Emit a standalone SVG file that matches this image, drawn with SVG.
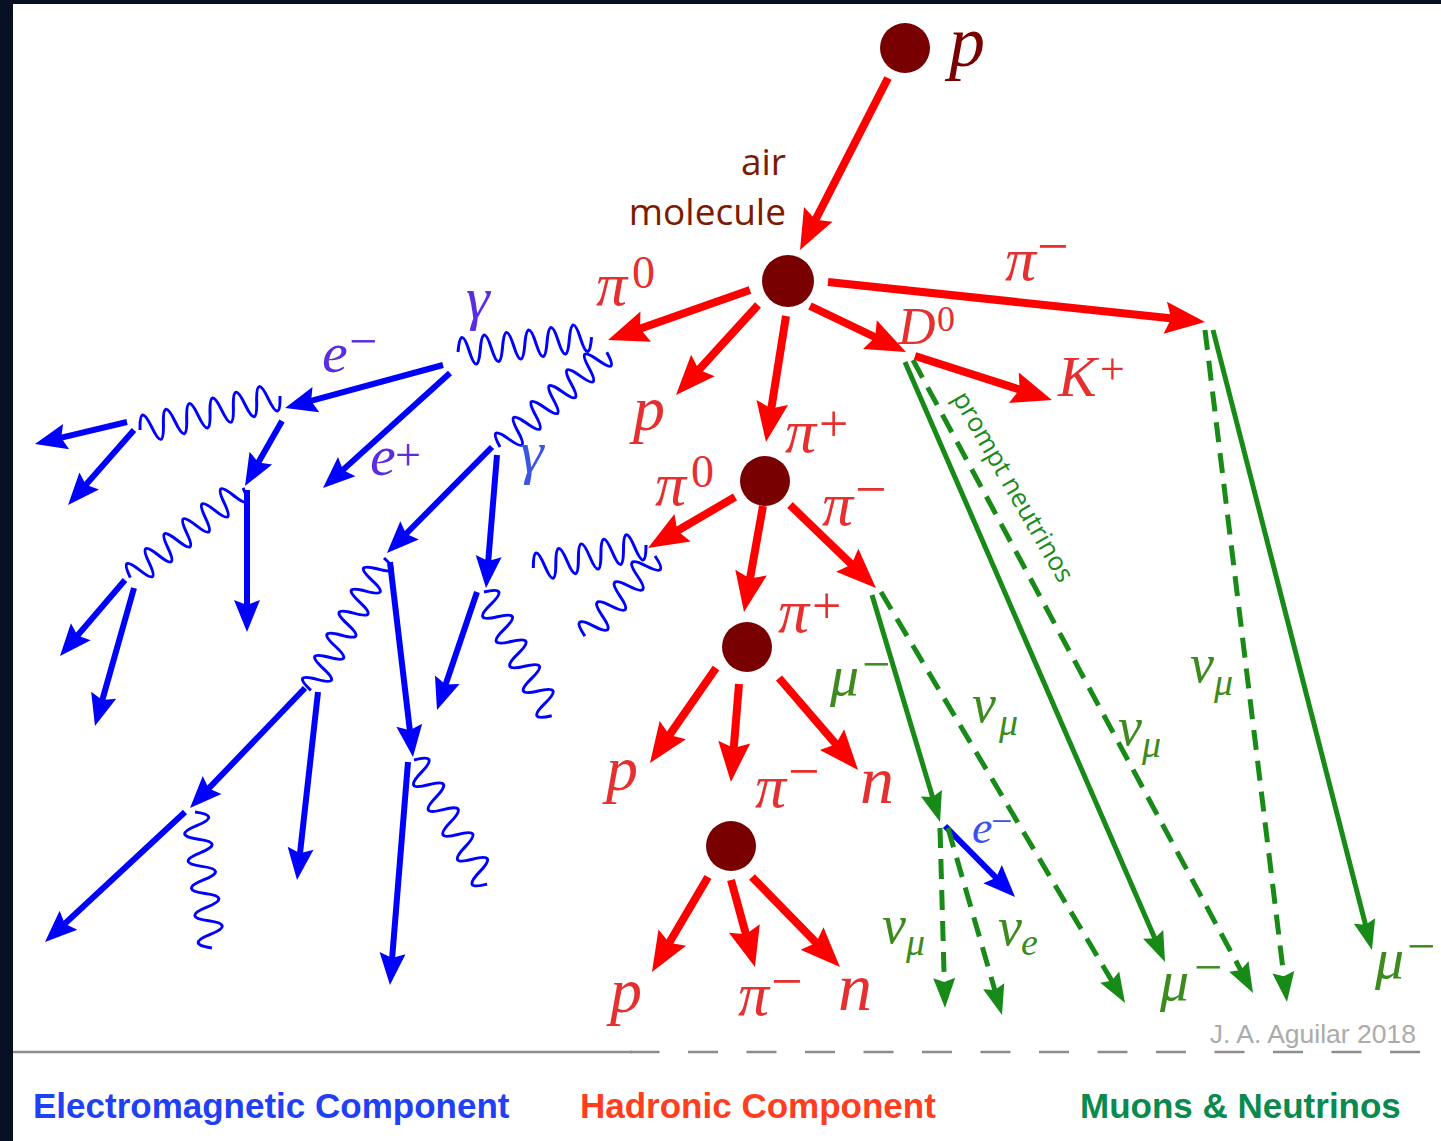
<svg xmlns="http://www.w3.org/2000/svg" width="1441" height="1141" viewBox="0 0 1441 1141">
  <style>
    .had { stroke: #ff0000; stroke-width: 8; fill: none; }
    .em { stroke: #0000ff; stroke-width: 6; fill: none; }
    .wave { stroke: #0000ff; stroke-width: 3; fill: none; stroke-linejoin: round; }
    .mu { stroke: #178a17; stroke-width: 5; fill: none; }
    .nu { stroke: #178a17; stroke-width: 5; fill: none; stroke-dasharray: 20 11; }
    .vtx { fill: #780000; }
    .m { font-family: "Liberation Serif", "DejaVu Serif", serif; font-style: italic; }
    .up { font-family: "Liberation Serif", "DejaVu Serif", serif; font-style: normal; }
    .hl { fill: #e63030; }
    .gl { fill: #3d8b1f; }
    .legend { font-family: "Liberation Sans", Arial, sans-serif; font-weight: bold; font-size: 35px; }
  </style>
  <defs>
    <marker id="hr" markerUnits="userSpaceOnUse" markerWidth="44" markerHeight="36" viewBox="0 -18 44 36" refX="10" refY="0" orient="auto" overflow="visible">
      <path d="M0,-16 L40,0 L0,16 L6,0 Z" fill="#ff0000"/>
    </marker>
    <marker id="hb" markerUnits="userSpaceOnUse" markerWidth="36" markerHeight="30" viewBox="0 -15 36 30" refX="8" refY="0" orient="auto" overflow="visible">
      <path d="M0,-13 L32,0 L0,13 L5,0 Z" fill="#0000ff"/>
    </marker>
    <marker id="hg" markerUnits="userSpaceOnUse" markerWidth="34" markerHeight="26" viewBox="0 -13 34 26" refX="8" refY="0" orient="auto" overflow="visible">
      <path d="M0,-11 L30,0 L0,11 L4,0 Z" fill="#178a17"/>
    </marker>
  </defs>

  <!-- frame -->
  <rect x="0" y="0" width="1441" height="1141" fill="#061022"/>
  <rect x="13" y="4" width="1428" height="1137" fill="#ffffff"/>

  <!-- connectors -->
  <g id="connectors">
    <!-- hadronic cascade -->
    <g id="hadronic-tracks">
      <path class="had" d="M888,78 L813.7,223.3" marker-end="url(#hr)"/>
      <path class="had" d="M750,290 L636.3,330" marker-end="url(#hr)"/>
      <path class="had" d="M758,305 L696.2,372.8" marker-end="url(#hr)"/>
      <path class="had" d="M786,316 L770.7,412.4" marker-end="url(#hr)"/>
      <path class="had" d="M810,306 L878.9,339" marker-end="url(#hr)"/>
      <path class="had" d="M828,282 L1175.2,318.8" marker-end="url(#hr)"/>
      <path class="had" d="M915,356 L1023.4,390.8" marker-end="url(#hr)"/>
      <path class="had" d="M735,497 L673.9,532.8" marker-end="url(#hr)"/>
      <path class="had" d="M763,506 L749.3,582.5" marker-end="url(#hr)"/>
      <path class="had" d="M790,505 L854.4,567.2" marker-end="url(#hr)"/>
      <path class="had" d="M716,668 L667.1,738.4" marker-end="url(#hr)"/>
      <path class="had" d="M739,684 L733.4,752.1" marker-end="url(#hr)"/>
      <path class="had" d="M779,678 L838.5,747.2" marker-end="url(#hr)"/>
      <path class="had" d="M708,877 L667.2,946.2" marker-end="url(#hr)"/>
      <path class="had" d="M731,880 L747,938.1" marker-end="url(#hr)"/>
      <path class="had" d="M752,877 L819,945.6" marker-end="url(#hr)"/>
    </g>

    <!-- electromagnetic cascade: e+/e- tracks -->
    <g id="em-tracks">
      <path class="em" d="M443,365 L308.2,401.7" marker-end="url(#hb)"/>
      <path class="em" d="M450,373 L340.8,471.9" marker-end="url(#hb)"/>
      <path class="em" d="M282,421 L256.9,465.1" marker-end="url(#hb)"/>
      <path class="em" d="M127,422 L58.3,438.4" marker-end="url(#hb)"/>
      <path class="em" d="M134,430 L83.9,487" marker-end="url(#hb)"/>
      <path class="em" d="M247,490 L247,608" marker-end="url(#hb)"/>
      <path class="em" d="M125,580 L75.6,637.8" marker-end="url(#hb)"/>
      <path class="em" d="M134,588 L101.5,702.9" marker-end="url(#hb)"/>
      <path class="em" d="M492,447 L403.9,536" marker-end="url(#hb)"/>
      <path class="em" d="M497,455 L488,564.1" marker-end="url(#hb)"/>
      <path class="em" d="M477,592 L444.7,687.3" marker-end="url(#hb)"/>
      <path class="em" d="M305,688 L206.6,790.7" marker-end="url(#hb)"/>
      <path class="em" d="M318,692 L299.7,856.2" marker-end="url(#hb)"/>
      <path class="em" d="M390,562 L410.2,733.2" marker-end="url(#hb)"/>
      <path class="em" d="M408,762 L391.9,961.1" marker-end="url(#hb)"/>
      <path class="em" d="M185,812 L62.6,925.7" marker-end="url(#hb)"/>
      <path class="em" d="M945,826 L998.2,879.9" marker-end="url(#hb)"/>
    </g>

    <!-- photons -->
    <g id="photons">
      <path class="wave" transform="translate(458,352) rotate(-6.4)" d="M0,0 q5.6,-28 11.2,0 t11.2,0 t11.2,0 t11.2,0 t11.2,0 t11.2,0 t11.2,0 t11.2,0 t11.2,0 t11.2,0 t11.2,0 t11.2,0"/>
      <path class="wave" transform="translate(500,447) rotate(-41.6)" d="M0,0 q5.95,-26 11.9,0 t11.9,0 t11.9,0 t11.9,0 t11.9,0 t11.9,0 t11.9,0 t11.9,0 t11.9,0 t11.9,0 t11.9,0 t11.9,0"/>
      <path class="wave" transform="translate(280,396) rotate(166.35)" d="M0,0 q6,-28 12,0 t12,0 t12,0 t12,0 t12,0 t12,0 t12,0 t12,0 t12,0 t12,0 t12,0 t12,0"/>
      <path class="wave" transform="translate(243,488) rotate(141.5)" d="M0,0 q6,-26 12,0 t12,0 t12,0 t12,0 t12,0 t12,0 t12,0 t12,0 t12,0 t12,0 t12,0 t12,0"/>
      <path class="wave" transform="translate(384,558) rotate(118.9)" d="M0,0 q6.3,-26 12.6,0 t12.6,0 t12.6,0 t12.6,0 t12.6,0 t12.6,0 t12.6,0 t12.6,0 t12.6,0 t12.6,0 t12.6,0 t12.6,0"/>
      <path class="wave" transform="translate(484,592) rotate(61.3)" d="M0,0 q7.05,-26 14.1,0 t14.1,0 t14.1,0 t14.1,0 t14.1,0 t14.1,0 t14.1,0 t14.1,0 t14.1,0 t14.1,0"/>
      <path class="wave" transform="translate(414,760) rotate(59.5)" d="M0,0 q7.2,-26 14.4,0 t14.4,0 t14.4,0 t14.4,0 t14.4,0 t14.4,0 t14.4,0 t14.4,0 t14.4,0 t14.4,0"/>
      <path class="wave" transform="translate(195,812) rotate(82.9)" d="M0,0 q6.85,-26 13.7,0 t13.7,0 t13.7,0 t13.7,0 t13.7,0 t13.7,0 t13.7,0 t13.7,0 t13.7,0 t13.7,0"/>
      <path class="wave" transform="translate(646,545) rotate(168.5)" d="M0,0 q5.75,-28 11.5,0 t11.5,0 t11.5,0 t11.5,0 t11.5,0 t11.5,0 t11.5,0 t11.5,0 t11.5,0 t11.5,0"/>
      <path class="wave" transform="translate(655,556) rotate(131.2)" d="M0,0 q6.65,-26 13.3,0 t13.3,0 t13.3,0 t13.3,0 t13.3,0 t13.3,0 t13.3,0 t13.3,0"/>
    </g>

    <!-- muons (solid) and neutrinos (dashed) -->
    <g id="muon-tracks">
      <path class="mu" d="M872,595 L933.7,800.9" marker-end="url(#hg)"/>
      <path class="nu" d="M881,592 L1113.8,984.1" marker-end="url(#hg)"/>
      <path class="nu" d="M940,828 L944.4,986" marker-end="url(#hg)"/>
      <path class="nu" d="M948,828 L995.9,993.9" marker-end="url(#hg)"/>
      <path class="mu" d="M905,362 L1156.3,941.8" marker-end="url(#hg)"/>
      <path class="nu" d="M913,360 L1242.6,973.6" marker-end="url(#hg)"/>
      <path class="nu" d="M1205,330 L1284.3,980.2" marker-end="url(#hg)"/>
      <path class="mu" d="M1213,330 L1366.5,928.7" marker-end="url(#hg)"/>
    </g>
  </g>

  <!-- interaction vertices -->
  <g id="primary"><circle class="vtx" cx="905" cy="48" r="25"/></g>
  <g id="first-interaction"><circle class="vtx" cx="788" cy="281" r="26"/></g>
  <g id="second-interaction"><circle class="vtx" cx="765" cy="481" r="25"/></g>
  <g id="third-interaction"><circle class="vtx" cx="747" cy="647" r="25"/></g>
  <g id="fourth-interaction"><circle class="vtx" cx="731" cy="846" r="25"/></g>

  <!-- particle labels -->
  <g id="labels">
    <text class="m" x="949" y="66" font-size="72" fill="#780000">p</text>
    <text x="786" y="175" text-anchor="end" font-family="Open Sans, Liberation Sans, sans-serif" font-size="37" fill="#7d1a00">air</text>
    <text x="786" y="225" text-anchor="end" font-family="Open Sans, Liberation Sans, sans-serif" font-size="37" fill="#7d1a00">molecule</text>

    <g class="hl">
      <text class="m" x="596" y="305" font-size="62">π</text><text class="up" x="632" y="288" font-size="46">0</text>
      <text class="m" x="1005" y="280" font-size="62">π</text><text class="up" x="1037" y="265" font-size="56">−</text>
      <text class="m" x="898" y="344" font-size="52">D</text><text class="up" x="937" y="331" font-size="36">0</text>
      <text class="m" x="1058" y="396" font-size="58">K</text><text class="up" x="1100" y="384" font-size="44">+</text>
      <text class="m" x="633" y="430" font-size="64">p</text>
      <text class="m" x="785" y="452" font-size="62">π</text><text class="up" x="819" y="441" font-size="52">+</text>
      <text class="m" x="655" y="505" font-size="62">π</text><text class="up" x="691" y="487" font-size="46">0</text>
      <text class="m" x="822" y="525" font-size="62">π</text><text class="up" x="855" y="508" font-size="56">−</text>
      <text class="m" x="778" y="632" font-size="62">π</text><text class="up" x="812" y="623" font-size="52">+</text>
      <text class="m" x="606" y="790" font-size="64">p</text>
      <text class="m" x="755" y="807" font-size="62">π</text><text class="up" x="788" y="790" font-size="56">−</text>
      <text class="m" x="860" y="803" font-size="68">n</text>
      <text class="m" x="610" y="1012" font-size="64">p</text>
      <text class="m" x="738" y="1015" font-size="62">π</text><text class="up" x="771" y="1000" font-size="56">−</text>
      <text class="m" x="838" y="1010" font-size="68">n</text>
    </g>

    <g fill="#5a2ee0">
      <text class="m" x="466" y="318" font-size="60">γ</text>
      <text class="m" x="322" y="372" font-size="58">e</text><text class="up" x="349" y="358" font-size="50">−</text>
      <text class="m" x="370" y="475" font-size="58">e</text><text class="up" x="395" y="470" font-size="46">+</text>
    </g>
    <text class="m" x="520" y="472" font-size="60" fill="#3a55e0">γ</text>
    <g fill="#3a50f0">
      <text class="m" x="972" y="843" font-size="46">e</text><text class="up" x="991" y="834" font-size="38">−</text>
    </g>

    <g class="gl">
      <text class="m" x="830" y="695" font-size="58">μ</text><text class="up" x="862" y="681" font-size="50">−</text>
      <text class="m" x="972" y="722" font-size="54">ν</text><text class="m" x="999" y="735" font-size="38">μ</text>
      <text class="m" x="1118" y="745" font-size="54">ν</text><text class="m" x="1142" y="757" font-size="38">μ</text>
      <text class="m" x="1190" y="682" font-size="54">ν</text><text class="m" x="1214" y="695" font-size="38">μ</text>
      <text class="m" x="882" y="943" font-size="54">ν</text><text class="m" x="906" y="955" font-size="38">μ</text>
      <text class="m" x="998" y="945" font-size="54">ν</text><text class="m" x="1021" y="955" font-size="38">e</text>
      <text class="m" x="1160" y="1000" font-size="58">μ</text><text class="up" x="1194" y="984" font-size="50">−</text>
      <text class="m" x="1375" y="978" font-size="58">μ</text><text class="up" x="1407" y="963" font-size="50">−</text>
    </g>
    <text transform="translate(952,398) rotate(60)" font-family="Open Sans, Liberation Sans, sans-serif" font-size="26" fill="#1a8a1a">prompt neutrinos</text>
  </g>

  <!-- ground line, credit and legend -->
  <g id="footer">
    <path d="M13,1052 L632,1052" stroke="#8c8c8c" stroke-width="2.5" fill="none"/>
    <path d="M1420,1052 L630,1052" stroke="#8c8c8c" stroke-width="2.5" fill="none" stroke-dasharray="30 28.5"/>
    <text x="1416" y="1043" text-anchor="end" font-family="Liberation Sans, Arial, sans-serif" font-size="26.5" fill="#ababab">J. A. Aguilar 2018</text>
    <text class="legend" x="33" y="1118" fill="#1f40f5">Electromagnetic Component</text>
    <text class="legend" x="580" y="1118" fill="#ff3d1f">Hadronic Component</text>
    <text class="legend" x="1080" y="1118" fill="#0a8a4e">Muons &amp; Neutrinos</text>
  </g>
</svg>
